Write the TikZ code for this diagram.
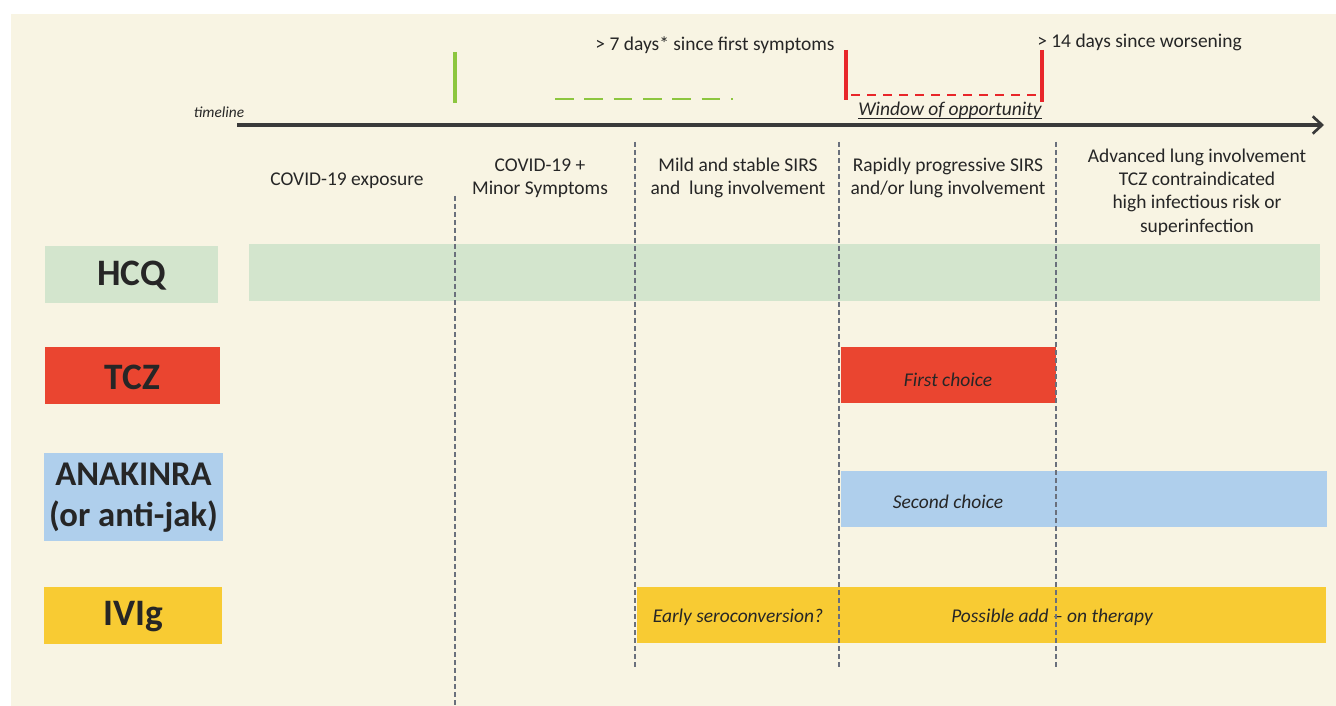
\documentclass[tikz,border=0pt]{standalone}
\usepackage{fontspec}
\setmainfont{Carlito}
\usetikzlibrary{arrows.meta}
\definecolor{bgc}{HTML}{F8F4E3}
\definecolor{hcqc}{HTML}{D3E5CD}
\definecolor{tczc}{HTML}{EA4530}
\definecolor{anac}{HTML}{AFCFEC}
\definecolor{ivic}{HTML}{F8CB33}
\definecolor{greenl}{HTML}{8DC63F}
\definecolor{redl}{HTML}{E8262A}
\definecolor{tline}{HTML}{3A3A3A}
\definecolor{dashc}{HTML}{6A707C}
\definecolor{txt}{HTML}{262626}
\tikzset{
  lab/.style={text=txt, font=\fontsize{28}{32}\selectfont\bfseries, align=center, inner sep=0pt},
  col/.style={text=txt, font=\fontsize{14.6}{17.5}\selectfont, align=center, inner sep=0pt},
  itl/.style={text=txt, font=\fontsize{14.6}{17.5}\selectfont\itshape, align=center, inner sep=0pt},
  sep/.style={dashc, line width=1pt, dash pattern=on 4pt off 2pt},
}
\begin{document}
\begin{tikzpicture}[x=0.75pt,y=-0.75pt]
\useasboundingbox (0,0) rectangle (1336,706);
\fill[white] (0,0) rectangle (1336,706);
\fill[bgc] (11,14) rectangle (1336,706);

% top markers
\coordinate (g1) at (455,52); \coordinate (g2) at (455,103);
\draw[greenl, line width=3pt] (g1) -- (g2);
\coordinate (gd1) at (555,99); \coordinate (gd2) at (733,99);
\draw[greenl, line width=2.2pt, dash pattern=on 14pt off 8pt] (gd1) -- (gd2);
\coordinate (r1a) at (846,50); \coordinate (r1b) at (846,100);
\coordinate (r2a) at (1042,50); \coordinate (r2b) at (1042,102);
\draw[redl, line width=3.5pt] (r1a) -- (r1b);
\draw[redl, line width=3.5pt] (r2a) -- (r2b);
\coordinate (rd1) at (851,95); \coordinate (rd2) at (1038,95);
\draw[redl, line width=1.5pt, dash pattern=on 7pt off 5pt] (rd1) -- (rd2);

\node[col, anchor=base] (t7) at (715,51) {> 7 days* since first symptoms};
\node[col, anchor=base west] (t14) at (1037,48) {> 14 days since worsening};
\node[itl, anchor=base] (win) at (950,116) {Window of opportunity};
\draw[txt, line width=0.8pt] ([yshift=-2pt]win.base west) -- ([yshift=-2pt]win.base east);

% timeline
\node[text=txt, font=\fontsize{11.5}{13}\selectfont\itshape, anchor=base] (tl) at (219,118) {timeline};
\coordinate (ta) at (237,125); \coordinate (tb) at (1324,125);
\draw[tline, line width=2.4pt, -{Straight Barb[length=7pt,width=13pt,line width=2pt]}] (ta) -- (tb);

% column separators
\coordinate (s1a) at (455,196); \coordinate (s1b) at (455,706);
\coordinate (s2a) at (635,142); \coordinate (s2b) at (635,668);
\coordinate (s3a) at (839,142); \coordinate (s3b) at (839,668);
\coordinate (s4a) at (1056,142); \coordinate (s4b) at (1056,668);

% column headers
\node[col] (c1) at (347,181) {COVID-19 exposure};
\node[col] (c2) at (540,178) {COVID-19 +\\Minor Symptoms};
\node[col] (c3) at (738,178) {Mild and stable SIRS\\and \ lung involvement};
\node[col] (c4) at (948,178) {Rapidly progressive SIRS\\and/or lung involvement};
\node[col] (c5) at (1197,192) {Advanced lung involvement\\TCZ contraindicated\\high infectious risk or\\superinfection};

% rows
\fill[hcqc] (45,246) rectangle (218,303);
\node[lab] (hcq) at (131.5,276) {HCQ};
\fill[hcqc] (249,244) rectangle (1320,301);

\fill[tczc] (45,347) rectangle (220,404);
\node[lab] (tcz) at (132.5,377) {TCZ};
\fill[tczc] (841,347) rectangle (1056,403);
\node[itl] (first) at (948,380) {First choice};

\fill[anac] (44,453) rectangle (223,541);
\node[lab, font=\fontsize{26}{31}\selectfont\bfseries] (ana) at (133.5,498) {ANAKINRA\\(or anti-jak)};
\fill[anac] (841,471) rectangle (1327,527);
\node[itl] (second) at (948,502) {Second choice};

\fill[ivic] (44,587) rectangle (222,644);
\node[lab] (ivig) at (133,617) {IVIg};
\fill[ivic] (637,587) rectangle (1326,643);
\node[itl] (early) at (738,617) {Early seroconversion?};
\node[itl] (addon) at (1052,617) {Possible add -- on therapy};

\draw[sep] (s1a) -- (s1b);
\draw[sep] (s2a) -- (s2b);
\draw[sep] (s3a) -- (s3b);
\draw[sep] (s4a) -- (s4b);
\end{tikzpicture}
\end{document}
